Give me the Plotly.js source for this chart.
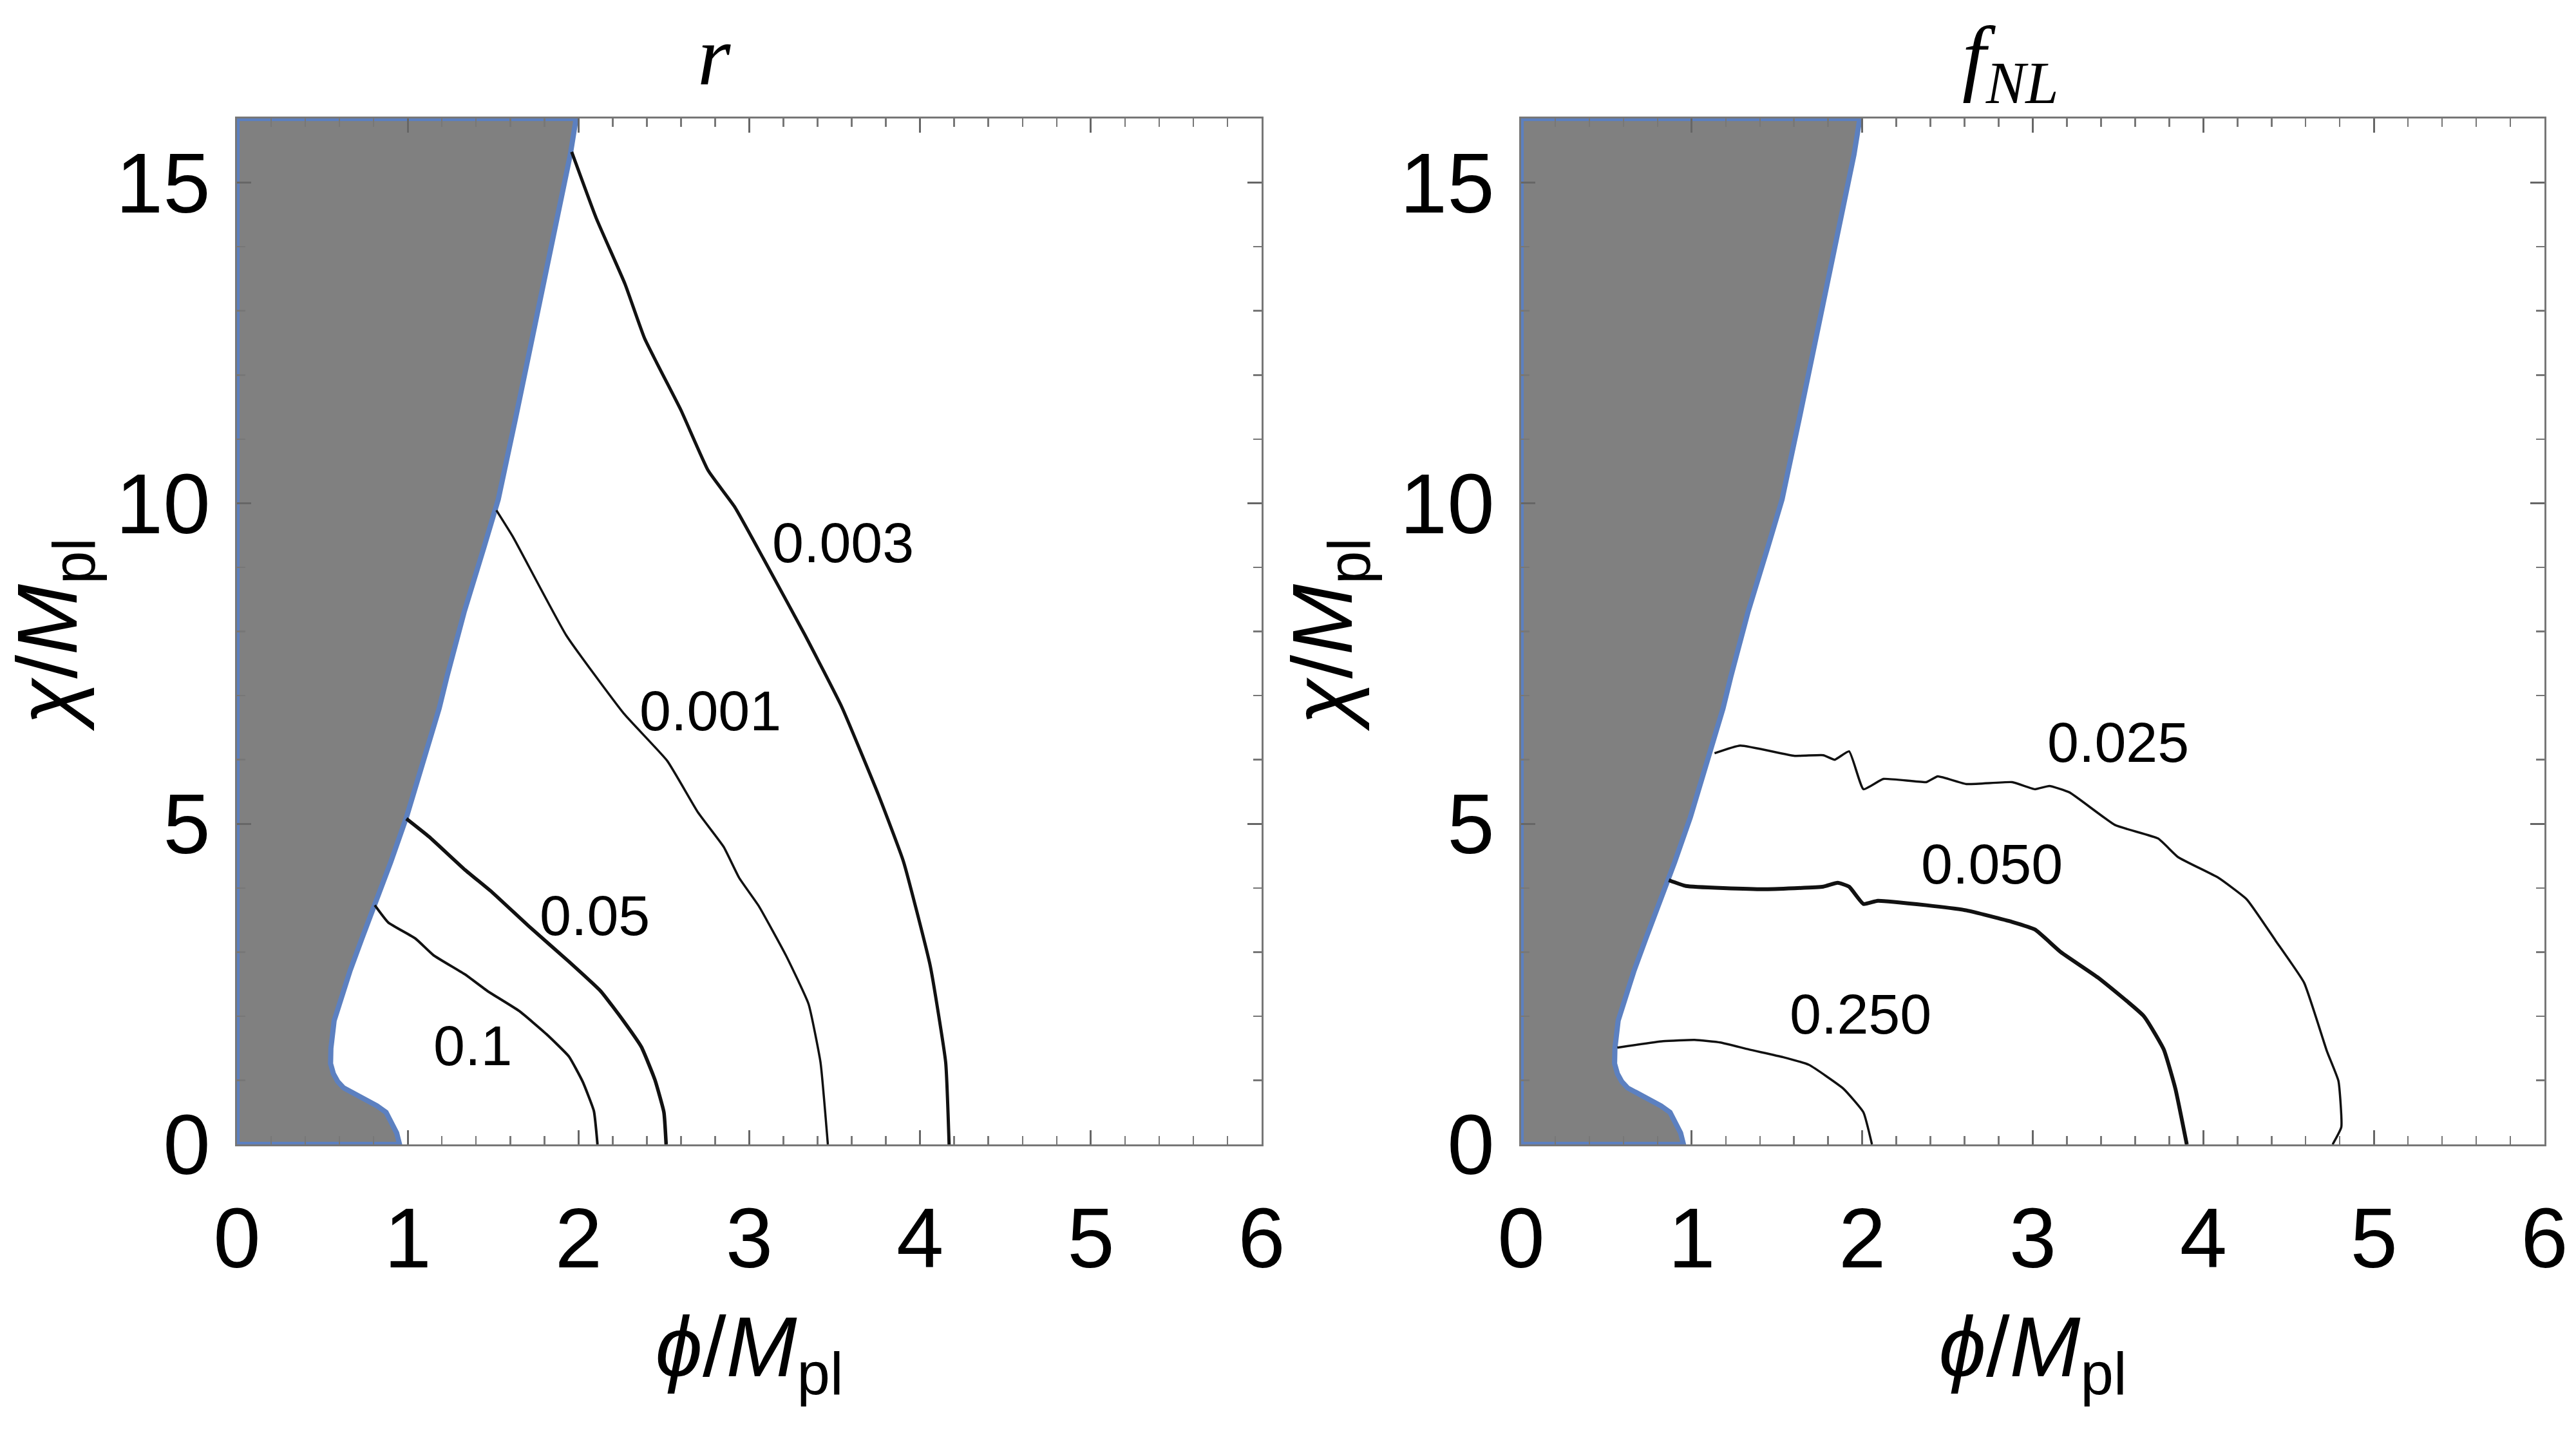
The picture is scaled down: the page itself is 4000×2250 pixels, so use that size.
<!DOCTYPE html>
<html>
<head>
<meta charset="utf-8">
<script src="https://cdn.plot.ly/plotly-3.0.1.min.js"></script>
<style>
html,body{margin:0;padding:0;background:#fff;}
#chart{width:4000px;height:2250px;}
</style>
</head>
<body>
<div id="chart"></div>
<script>
// ---- Data ----
// Excluded (gray) region: boundary from (phi,chi)=(0.952,0) up to (1.986,16), closed along phi=0
const regionPhi = [0, 0.952, 0.935, 0.905, 0.873, 0.82, 0.754, 0.68, 0.625, 0.59, 0.565, 0.548, 0.55, 0.569, 0.61, 0.661, 0.73, 0.807, 0.90, 0.992, 1.09, 1.184, 1.23, 1.33, 1.446, 1.53, 1.631, 1.716, 1.80, 1.876, 1.952, 1.986, 0, 0];
const regionChi = [0, 0, 0.18, 0.34, 0.50, 0.60, 0.70, 0.79, 0.88, 0.98, 1.10, 1.26, 1.50, 1.93, 2.30, 2.70, 3.20, 3.72, 4.40, 5.10, 5.95, 6.80, 7.30, 8.30, 9.31, 10.06, 11.32, 12.39, 13.47, 14.45, 15.44, 16, 16, 0];

// Left panel: tensor-to-scalar ratio r contours
const r01Phi = [0.807, 0.886, 1.045, 1.151, 1.336, 1.468, 1.653, 1.812, 1.944, 2.024, 2.09, 2.111];
const r01Chi = [3.73, 3.46, 3.21, 2.95, 2.65, 2.39, 2.08, 1.72, 1.37, 0.98, 0.52, 0];
const r005Phi = [0.992, 1.124, 1.336, 1.495, 1.706, 1.944, 2.130, 2.262, 2.368, 2.447, 2.50, 2.513];
const r005Chi = [5.08, 4.80, 4.28, 3.93, 3.41, 2.85, 2.39, 1.93, 1.52, 1.01, 0.50, 0];
const r0001Phi = [1.519, 1.615, 1.928, 2.265, 2.52, 2.699, 2.85, 2.94, 3.055, 3.214, 3.347, 3.417, 3.46];
const r0001Chi = [9.89, 9.48, 7.94, 6.72, 5.98, 5.18, 4.64, 4.16, 3.72, 2.95, 2.19, 1.28, 0];
const r0003Phi = [1.960, 2.103, 2.272, 2.387, 2.60, 2.759, 2.915, 3.084, 3.325, 3.542, 3.758, 3.903, 4.06, 4.15, 4.17];
const r0003Chi = [15.48, 14.45, 13.42, 12.57, 11.45, 10.51, 9.94, 9.13, 7.95, 6.82, 5.44, 4.41, 2.78, 1.28, 0];
const rLabels = ["0.003", "0.001", "0.05", "0.1"];
const rLabelPhi = [3.548, 2.770, 2.096, 1.382];
const rLabelChi = [9.39, 6.76, 3.575, 1.546];

// Right panel: f_NL contours
const f0025Phi = [1.134, 1.285, 1.604, 1.772, 1.839, 1.923, 2.007, 2.124, 2.376, 2.443, 2.611, 2.879, 3.013, 3.097, 3.215, 3.483, 3.735, 3.852, 4.087, 4.255, 4.423, 4.591, 4.725, 4.792, 4.809, 4.758];
const f0025Chi = [6.10, 6.22, 6.06, 6.07, 6.00, 6.13, 5.54, 5.70, 5.65, 5.74, 5.62, 5.65, 5.54, 5.59, 5.49, 4.98, 4.77, 4.48, 4.16, 3.82, 3.18, 2.52, 1.45, 0.99, 0.27, 0];
const f0050Phi = [0.866, 0.966, 1.419, 1.772, 1.856, 1.923, 2.007, 2.091, 2.376, 2.611, 2.879, 3.013, 3.164, 3.383, 3.651, 3.768, 3.836, 3.903];
const f0050Chi = [4.12, 4.03, 3.98, 4.02, 4.08, 4.02, 3.75, 3.80, 3.73, 3.65, 3.47, 3.35, 3.00, 2.60, 2.00, 1.48, 0.87, 0];
const f0250Phi = [0.564, 0.832, 1.017, 1.168, 1.336, 1.537, 1.688, 1.889, 2.007, 2.057];
const f0250Chi = [1.51, 1.61, 1.63, 1.59, 1.48, 1.36, 1.24, 0.87, 0.50, 0];
const fLabels = ["0.025", "0.050", "0.250"];
const fLabelPhi = [3.50, 2.762, 1.99];
const fLabelChi = [6.27, 4.37, 2.03];

const xTickVals = [0, 1, 2, 3, 4, 5, 6];
const yTickVals = [0, 5, 10, 15];

// ---- Styles ----
const GRAY = '#808080';
const BLUE = 'rgb(92,128,192)';
const tickFont = {family: '"Liberation Sans", Arial, sans-serif', size: 132, color: '#000'};
const labelFont = {family: '"Liberation Sans", Arial, sans-serif', size: 88, color: '#000'};
const serifFont = '"Liberation Serif", "DejaVu Serif", serif';

function region(xa, ya) {
  return {x: regionPhi, y: regionChi, xaxis: xa, yaxis: ya, type: 'scatter', mode: 'lines',
    fill: 'toself', fillcolor: GRAY, line: {color: BLUE, width: 8}, hoverinfo: 'skip', showlegend: false};
}
function contour(px, py, xa, ya, w) {
  return {x: px, y: py, xaxis: xa, yaxis: ya, type: 'scatter', mode: 'lines',
    line: {color: '#111', width: w, shape: 'spline', smoothing: 0.4}, showlegend: false};
}

const traces = [
  region('x', 'y'),
  contour(r01Phi, r01Chi, 'x', 'y', 4),
  contour(r005Phi, r005Chi, 'x', 'y', 5.5),
  contour(r0001Phi, r0001Chi, 'x', 'y', 3.5),
  contour(r0003Phi, r0003Chi, 'x', 'y', 5),
  region('x2', 'y2'),
  contour(f0025Phi, f0025Chi, 'x2', 'y2', 3.5),
  contour(f0050Phi, f0050Chi, 'x2', 'y2', 6),
  contour(f0250Phi, f0250Chi, 'x2', 'y2', 3.5)
];

function xAxis(domain, anchor) {
  return {
    domain: domain, anchor: anchor, range: [0, 6], tickvals: xTickVals,
    ticks: 'inside', ticklen: 22, tickwidth: 3, tickcolor: '#666',
    minor: {dtick: 0.2, ticks: 'inside', ticklen: 13, tickwidth: 2.5, tickcolor: '#777', showgrid: false},
    showline: true, linecolor: '#777', linewidth: 3, mirror: 'ticks',
    showgrid: false, zeroline: false, tickfont: tickFont, ticklabelstandoff: 30,
    title: {text: '<i>ϕ</i>/<i>M</i><sub>pl</sub>', font: tickFont, standoff: 50}
  };
}
function yAxis(domain, anchor) {
  return {
    domain: domain, anchor: anchor, range: [0, 16], tickvals: yTickVals,
    ticks: 'inside', ticklen: 22, tickwidth: 3, tickcolor: '#666',
    minor: {dtick: 1, ticks: 'inside', ticklen: 13, tickwidth: 2.5, tickcolor: '#777', showgrid: false},
    showline: true, linecolor: '#777', linewidth: 3, mirror: 'ticks',
    showgrid: false, zeroline: false, tickfont: tickFont, ticklabelstandoff: 12,
    title: {text: '<i>χ</i>/<i>M</i><sub>pl</sub>', font: tickFont, standoff: 30}
  };
}

const annotations = [];
rLabels.forEach((t, i) => annotations.push({text: t, x: rLabelPhi[i], y: rLabelChi[i], xref: 'x', yref: 'y', showarrow: false, font: labelFont, xanchor: 'center', yanchor: 'middle'}));
fLabels.forEach((t, i) => annotations.push({text: t, x: fLabelPhi[i], y: fLabelChi[i], xref: 'x2', yref: 'y2', showarrow: false, font: labelFont, xanchor: 'center', yanchor: 'middle'}));
annotations.push({text: '<i>r</i>', x: 0.2773, y: 0.9615, xref: 'paper', yref: 'paper', showarrow: false,
  font: {family: serifFont, size: 132, color: '#000'}, xanchor: 'center', yanchor: 'middle'});
annotations.push({text: '<i>f</i><sub><i>NL</i></sub>', x: 0.7805, y: 0.957, xref: 'paper', yref: 'paper', showarrow: false,
  font: {family: serifFont, size: 132, color: '#000'}, xanchor: 'center', yanchor: 'middle'});

const layout = {
  width: 4000, height: 2250,
  margin: {l: 0, r: 0, t: 0, b: 0},
  paper_bgcolor: '#fff', plot_bgcolor: '#fff',
  showlegend: false,
  xaxis: xAxis([0.092, 0.48975], 'y'),
  yaxis: yAxis([0.21022, 0.91822], 'x'),
  xaxis2: xAxis([0.5905, 0.98775], 'y2'),
  yaxis2: yAxis([0.21022, 0.91822], 'x2'),
  annotations: annotations
};

Plotly.newPlot('chart', traces, layout, {staticPlot: true});
</script>
</body>
</html>
